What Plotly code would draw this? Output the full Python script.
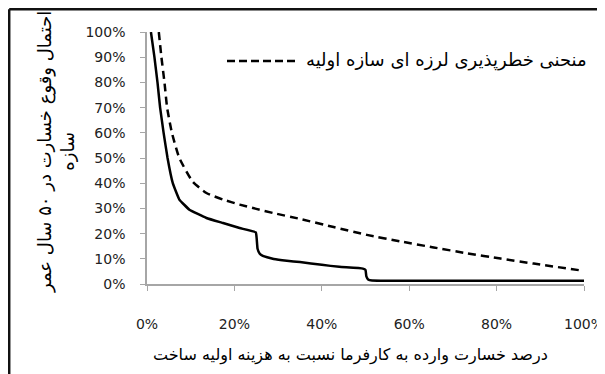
import plotly.graph_objects as go

# Solid curve (loss % -> probability %)
solid_x = [0.9, 1.7, 2.4, 3.0, 3.8, 4.7, 5.9, 7.4, 9.7, 13.6, 17.4, 21.2, 24.9, 25.1, 25.3,
           25.8, 26.5, 27.5, 29.0, 32.0, 35.0, 40.0, 44.0, 49.4, 50.0, 50.2, 50.6, 51.5, 60.0, 80.0, 100.0]
solid_y = [100, 90, 80, 70, 60, 50, 40, 33.5, 29.5, 26.2, 24.2, 22.2, 20.5, 18.0, 14.0,
           12.0, 11.2, 10.6, 9.9, 9.2, 8.7, 7.6, 6.8, 6.1, 5.6, 3.0, 1.8, 1.4, 1.3, 1.3, 1.3]

# Dashed curve: initial structure seismic risk curve
dash_x = [2.7, 3.3, 4.0, 4.6, 5.7, 7.4, 10.5, 13.6, 17.4, 21.2, 25.0, 28.8, 35.1, 42.7,
          50.3, 58.0, 65.6, 73.2, 80.9, 88.5, 99.6]
dash_y = [100, 90, 80, 70, 60, 50, 40.5, 36.1, 33.5, 31.5, 29.8, 28.2, 25.8, 22.6,
          19.5, 16.9, 14.5, 12.2, 10.1, 8.1, 5.3]

legend_label = "منحنی خطرپذیری لرزه ای سازه اولیه"
x_title = "درصد خسارت وارده به کارفرما نسبت به هزینه اولیه ساخت"
y_title_1 = "احتمال وقوع خسارت در ۵۰ سال عمر"
y_title_2 = "سازه"

x_ticks = [0, 0.2, 0.4, 0.6, 0.8, 1.0]
y_ticks = [0, 0.1, 0.2, 0.3, 0.4, 0.5, 0.6, 0.7, 0.8, 0.9, 1.0]

# page has an 8px body margin, so the figure is 8px smaller than the window
W, H = 597, 366
L, T, PW, PH = 139, 24, 437, 252


def px(xp):
    return (xp - L) / PW


def py(yp):
    return 1 - (yp - T) / PH


fig = go.Figure()
fig.add_trace(go.Scatter(x=[v / 100 for v in solid_x], y=[v / 100 for v in solid_y],
                         mode="lines", line=dict(color="black", width=2.5, shape="spline", smoothing=0.3),
                         showlegend=False))
fig.add_trace(go.Scatter(x=[v / 100 for v in dash_x], y=[v / 100 for v in dash_y],
                         mode="lines", line=dict(color="black", width=2.5, dash="8px,5px", shape="spline", smoothing=0.5),
                         showlegend=False))

tick_font = dict(family="DejaVu Sans", size=14, color="#222")
axis_col = "#a6a6a6"

fig.update_layout(
    width=W, height=H,
    margin=dict(l=L, r=W - L - PW, t=T, b=H - T - PH, autoexpand=False),
    plot_bgcolor="white", paper_bgcolor="white",
    xaxis=dict(range=[0, 1], tickvals=x_ticks, tickformat=".0%", showgrid=False, zeroline=False,
               showline=True, linecolor=axis_col, linewidth=1.5, ticks="outside", ticklen=5,
               tickcolor=axis_col, tickfont=tick_font, ticklabelstandoff=21, automargin=False),
    yaxis=dict(range=[0, 1], tickvals=y_ticks, tickformat=".0%", showgrid=False, zeroline=False,
               showline=True, linecolor=axis_col, linewidth=1.5, ticks="outside", ticklen=5,
               tickcolor=axis_col, tickfont=tick_font, ticklabelstandoff=12, automargin=False),
)

# Chart frame: only the top and left edges fall inside the view
frame = dict(color="#111", width=2.5)
fig.add_shape(type="line", xref="paper", yref="paper", x0=px(1.2), x1=px(W), y0=py(1.2), y1=py(1.2), line=frame)
fig.add_shape(type="line", xref="paper", yref="paper", x0=px(1.2), x1=px(1.2), y0=py(1.2), y1=py(H), line=frame)

# Legend: dashed sample + label
fig.add_shape(type="line", xref="paper", yref="paper", x0=px(219), x1=px(288), y0=py(53), y1=py(53),
              line=dict(color="black", width=2.5, dash="8px,4px"))
fig.add_annotation(xref="paper", yref="paper", x=px(296), y=py(52),
                   xanchor="left", yanchor="middle", text=legend_label, showarrow=False,
                   font=dict(family="DejaVu Sans", size=18, color="black"))

# Axis titles
fig.add_annotation(xref="paper", yref="paper", x=px(342), y=py(347),
                   xanchor="center", yanchor="middle", text=x_title, showarrow=False,
                   font=dict(family="DejaVu Sans", size=16, color="black"))
fig.add_annotation(xref="paper", yref="paper", x=px(48), y=py(144),
                   xanchor="center", yanchor="middle", text=y_title_1 + "<br>" + y_title_2,
                   textangle=-90, showarrow=False,
                   font=dict(family="DejaVu Sans", size=18, color="black"))

fig.write_html("out.html")
